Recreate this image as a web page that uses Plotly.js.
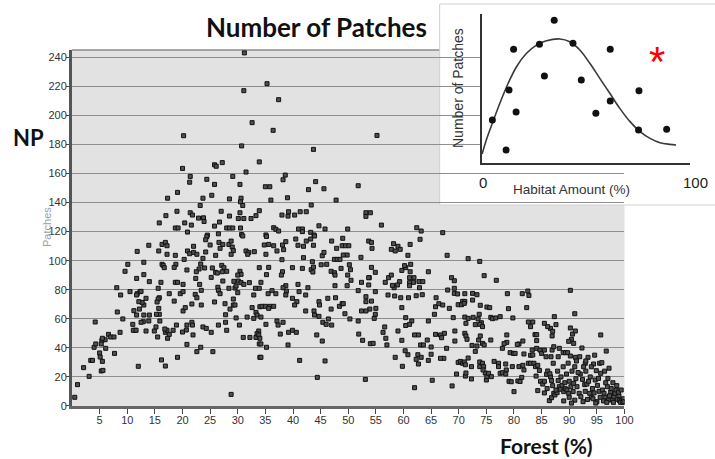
<!DOCTYPE html>
<html>
<head>
<meta charset="utf-8">
<script src="https://cdn.plot.ly/plotly-3.0.1.min.js"></script>
<style>
  html, body { margin: 0; padding: 0; background: #ffffff; }
  #chart { width: 715px; height: 459px; }
</style>
</head>
<body>
<div id="chart"></div>
<script>
// Landscape samples: forest cover (%) vs number of patches (NP), as [forest, NP]
const forestUnder20 = [
  [20.2,186],[20,163.5],[19.1,147],[17.3,143],[19,134],[17,131],[15.8,126],[18.7,122.5],[19.2,122.5],
  [16.3,111.2],[16.9,112.6],[17.2,110.3],[13.9,110.6],[11.8,106.4],[15.7,106.7],[17.2,104.4],[18.7,103.7],
  [10.1,97.5],[9.6,92.7],[13,98.9],[16.3,97.5],[16.5,96.8],[16.7,95.2],[18.8,97.5],[18.5,95.4],
  [11.7,87.8],[13,90.4],[14,85.6],[16.1,85.1],[18.7,85.1],[19.1,85.1],
  [8.1,81.4],[8.8,76.4],[10.5,78.7],[11.8,77.3],[12.3,78.7],[12.5,78.9],[11.7,76.4],[13.4,74.1],[13,69.5],
  [12.7,71.3],[12.1,71.8],[11.2,65.6],[11.7,62.6],[12.2,66.7],[14,62.6],[13.9,58.5],[12.9,58],[13,62.6],
  [12.5,57.6],[15.6,81],[15.8,74.5],[15.6,73.6],[15.4,71.6],[15.7,67.2],[15.8,63.1],[15.3,63.1],[15.9,58.5],
  [17.6,77.3],[18.5,72.2],[19.6,77.3],[8.2,64.7],[9.2,59.9],[4.2,57.8],[8.7,50.7],[11,56.2],[11.4,52.1],
  [11.1,52.1],[11.6,52.1],[13.4,51.6],[14.9,51.6],[15.2,54.4],[16.9,50.7],[17.2,52.1],[17.3,46.6],
  [17.6,49.3],[16.8,53],[15.5,47.5],[18.3,52.1],[18.9,55.7],[19.1,33.5],[16.2,31.7],[16.9,27.5],[12,27.3],
  [7.7,36.2],[5.4,45],[5.3,42.7],[6,45.6],[5.5,46.6],[6.1,39.7],[5,36.5],[5.1,33.7],[5.5,30.7],[5.3,24.1],
  [5.6,24.5],[6.6,49.3],[7,47.5],[7.6,47.5],[4,40.4],[4.3,42.7],[3.4,31.4],[3.7,31.4],[2.1,26.4],
  [3.1,20.4],[1,14.7],[0.5,6]
];

const forest20to35 = [
  [31.2,243],[31.1,217],[32.6,195],[30.7,179],[33.9,168],[25.8,166],[26.1,165],[27.2,167.5],[31.5,161],
  [21.4,158],[21.3,154],[24.4,156],[25.8,152.5],[29.1,158],[30.4,152.5],[23.7,143],[25.3,145],[28.5,142.5],
  [30.6,143],[30.5,140.5],[30.9,138],[23.2,138],[21.4,133],[21.8,131.4],[22.9,129.3],[23.8,129.5],[23.9,127],
  [27,134],[28.5,130.7],[30.4,133],[30.1,129],[31.1,129],[32.4,129],[33.3,131],[33.9,134.4],[20.4,126],
  [20.9,119.7],[21.6,124.5],[24.5,117.6],[25.8,123.8],[26.7,126.6],[26.5,118.5],[28,122.5],[28.5,122.5],
  [29.1,122.5],[30.5,122.5],[30.7,118],[24.4,116.5],[24.2,114.4],[30.9,117],[20.9,106.7],[22,109.9],
  [22,105.7],[21.3,104.8],[22.6,104.4],[24.2,106],[25,110.8],[26,103.7],[26.6,112.6],[26.8,108.5],
  [27.3,111.2],[28.4,111.2],[28.8,113.5],[29,109.4],[29.2,106.9],[28.8,104.4],[31.5,106.7],[32,105.7],
  [31.8,104.4],[33,106.2],[20.3,100.9],[20.8,93.6],[23.3,97.7],[23,94.3],[23.7,101.6],[24,95],[25.4,95],
  [26,92],[26.3,91.5],[27.1,96.8],[27.2,92.4],[27.5,95.2],[28,92.7],[30.4,92.7],[30.6,90.6],[30,90.1],
  [33.9,95.2],[20.1,83.7],[22.5,92.4],[22.4,87.8],[23.1,83.7],[23.4,79.6],[25.2,88.5],[26.4,81.7],
  [26.5,79.6],[26.8,77.3],[27.3,86],[28.4,81],[29.3,85.8],[29.5,81.2],[29.7,82.6],[30.1,86],[30.6,84.9],
  [31.1,83.7],[32.1,84.9],[33.2,81],[33.9,81],[20.1,78.7],[20.1,65.4],[20.5,67.7],[21.7,70.2],[22.3,76.8],
  [22.6,74.5],[23.4,69.5],[25.8,71.6],[27.7,70.4],[28.6,66.7],[29.2,69.5],[29.5,69.5],[29.2,73.6],[30,78],
  [32.9,76.4],[32.6,67.7],[33.3,64.4],[33.5,62.6],[32.9,60.3],[34,68.3],[31.7,61.2],[29.7,60.6],[27.8,62.8],
  [27.8,57.6],[26.5,55.7],[28,52.1],[20,50.9],[20.8,55.7],[20.7,52.3],[21.7,57.6],[21.8,55.7],[21.9,48.9],
  [20.8,42.4],[23.7,54.4],[24.3,53.4],[25.2,50.7],[22.6,37.4],[23.3,40.4],[25.5,37.4],[31,47.2],[32.2,47.2],
  [33.3,47.2],[33.8,51.6],[33.9,42.7],[33.5,49.8],[33.8,48.9],[30.3,55.7],[34,33.5],[28.8,8]
];

const forest35to67 = [
  [35.3,221.8],[37.4,210.8],[36.4,189.7],[55.2,186.2],[43.7,176.6],[38.6,158.9],[38.2,155.7],[35,150.9],
  [35.8,150.9],[44.1,154.4],[42.8,148.9],[45.6,149.5],[51.8,151.6],[36,141.7],[39,143.3],[47.8,141.7],
  [43.3,138.3],[38,131.4],[39.1,130.7],[39.2,133.7],[40.3,131.4],[41.3,133.7],[42.4,133.7],[53.2,133],
  [53.2,130.5],[54,133],[56,124.5],[36.5,122.7],[36.9,121.6],[37.4,120.4],[41,121.8],[41.7,121.8],[41.7,120],
  [43.2,119.5],[43.8,117.7],[44.7,124],[45.8,121.8],[49.9,121.8],[62.4,122.7],[63.2,120.4],[67.1,119.3],
  [35.1,117.7],[35.2,116.7],[34.8,110.8],[35.6,111.2],[36.5,110.3],[37.1,106.7],[38.1,110.8],[38.7,113.1],
  [38.3,107.6],[40.5,114.9],[40.9,110.6],[41.9,109.9],[42.4,113.5],[43.2,114.9],[43.9,117],[43.7,110.6],
  [47,113.5],[47.9,108.5],[49,115.4],[48.9,110.3],[49.5,110.3],[50.1,110.3],[49.8,103.9],[53.7,113.5],
  [54.2,112.6],[54.3,108.5],[57.8,107.8],[58.2,111.7],[58.5,106.7],[59,109.9],[59.4,107.8],[61.2,111.2],
  [63,114.7],[60.8,103.7],[35.1,104.4],[38,100.7],[41.9,102.1],[45.3,103.4],[45.6,105.7],[47.5,100.9],
  [48,100.9],[48.5,100.9],[49.1,103.9],[52.3,102.3],[35.6,95.4],[38.1,92.4],[37.9,90.1],[39.9,95.2],
  [41.7,94.7],[43.5,99.3],[43.3,93.8],[43.7,95.6],[43.6,92.2],[45.1,97.2],[46.1,97.5],[46.9,92.7],
  [47.5,91.7],[47.6,90.1],[48.7,94.7],[50.2,97.2],[50.4,93.8],[49.9,90.1],[50.5,86.5],[54.2,95.4],[54.9,92],
  [53.8,88.3],[57.3,88.3],[57.8,90.1],[59.7,93.3],[60.4,95.2],[60.2,96.6],[61.3,97.5],[61.2,92.4],
  [61.1,88.3],[61.1,84.9],[61.1,82.8],[61.9,88.3],[61.8,85.1],[62.9,81.4],[62.8,85.6],[63.5,85.6],
  [64.5,92.4],[59.3,85.6],[58.9,83.3],[58.3,81.4],[58,83],[56.7,85.1],[34.2,85.1],[35.2,90.4],[36.2,79.4],
  [35.5,77.3],[36.9,77.3],[38.7,82.8],[38.8,79.1],[38.7,76.4],[38.2,81.4],[40.9,83.7],[41.1,78.7],
  [39.9,74.1],[40.7,71.8],[40.3,69.5],[42.3,76.4],[42.7,81.4],[44.7,71.8],[44.8,69.5],[46.3,74.1],
  [46.9,66.7],[47.7,74.5],[48.4,68.6],[48.9,70.4],[49.1,70.4],[47.6,82.8],[49.8,82.8],[51.8,79.4],
  [52.4,85.1],[53.7,83.3],[53.7,88.3],[53.2,75.2],[53.2,71.8],[54.2,72.2],[53.9,66.7],[55,67.2],[54.9,63.1],
  [54.7,60.3],[52.4,65.4],[53.2,65.4],[54.9,78.7],[57.2,76.4],[58.4,75.7],[59.5,74.5],[60.9,74.5],
  [62.3,75.9],[63.4,76.6],[59.7,67.7],[60.4,60.8],[61.5,58.5],[61.1,56.2],[60.4,55.4],[64.5,58.5],
  [65.6,63.1],[65.8,68.3],[65.9,74.5],[66.4,70.4],[67.1,69.5],[34.2,61.2],[34.4,68.6],[35,68.6],[35.8,68.6],
  [36.5,68.6],[35.6,67.2],[35.1,56.2],[37.1,58.5],[37.3,55.7],[38.2,57.6],[34,46.6],[37.7,49.5],[39.2,50.7],
  [39.9,52.1],[40.6,50.7],[34.2,42.7],[35.2,40.4],[39.1,42],[34.2,33.5],[41.2,31.4],[45.8,31],[44.4,19.7],
  [53.1,18.3],[42.3,65.4],[43.8,65.4],[43.9,62.6],[44.7,61.7],[45.4,57.6],[46.4,59.9],[46,56.2],[47,55.7],
  [49.4,63.5],[50.3,59.9],[51.8,58.5],[44.3,48.9],[45.3,44.7],[51.9,49.5],[52.6,45.2],[54,42.9],[54.5,43.1],
  [56.3,50.7],[56.6,54.4],[56.8,46.6],[57,42],[59,51.6],[59.7,45.2],[58.5,33.5],[60.3,38],[60.8,35.3],
  [59.8,27.3],[62,12.6],[62.6,35.3],[63.2,33.5],[62.7,28.9],[62.3,32.1],[64.5,31.4],[65,35.6],[67.3,32.8],
  [66.7,32.8],[65.2,17.7],[62,48.9],[62.7,48.9],[63.1,42],[63.6,42],[64.3,45.4],[65,40.6],[65.8,49.3],
  [66.7,48.9],[66.9,47],[67.4,50]
];

const forestOver67 = [
  [67.9,103.7],[71.7,101.4],[73.8,99.5],[74.6,89.7],[76.8,86.5],[68.7,88.3],[69.2,86.2],[68,79.8],[69.2,81],
  [69.2,77.5],[69.8,77.1],[71.1,77.3],[72.5,77.5],[73.3,76.6],[72.5,72.9],[78.8,77.3],[81.5,77.3],[82.5,79.1],
  [82.7,76.1],[90.2,79.6],[68.3,67.2],[69.9,69.7],[70.7,72],[71.1,72],[70.5,69.7],[71,70.6],[73.9,69.3],
  [75.1,68.1],[75.6,67.7],[79,67],[82.3,67.7],[91,63.5],[69,60.8],[71.1,61.2],[71.7,60.3],[72.6,61],
  [73.7,63.1],[73.5,59.9],[74.1,57.3],[73.8,56.2],[74.3,54.6],[71.3,56.9],[73,56],[75.8,61],[76.1,60.1],
  [76.7,60.6],[77.5,61.5],[79.8,60.6],[82.6,57.8],[83.4,57.8],[83,54.6],[83.8,49.1],[84.1,49.1],[87.3,61.5],
  [87.6,56],[86.6,53.4],[87,51.4],[86.9,48.2],[85.5,56.9],[86.1,54.6],[90.2,53.7],[90.6,49.5],[90.4,45.9],
  [90.8,43.1],[89.9,44.5],[91.1,51.6],[95.7,48.9],[67.8,39.7],[69.3,51.6],[69.3,44.7],[71.1,50],[71.3,48.2],
  [71.5,45.9],[72.4,41.7],[73.3,41.3],[73,37.6],[73.6,45.4],[74.3,43.1],[74.6,42],[73.9,48.2],[75.8,45.4],
  [78.7,48.9],[78.7,43.8],[78.2,42.9],[77.9,39.7],[79.3,36.7],[79.9,36.2],[80.2,36.2],[80.9,42.7],[80.6,42.4],
  [81.6,44.7],[81.8,35.8],[84.1,45],[83.3,38.5],[84.1,39.7],[84.7,38.5],[85,36.2],[85.5,38.5],[85.8,33.9],
  [86.9,38.5],[87.2,40.8],[86.7,33.9],[87.1,29.4],[88,33.9],[88.2,39.7],[88.9,36.7],[89.3,36.7],[89.7,36.7],
  [90.2,34.4],[91.1,33.5],[91.9,33.9],[92.3,39.9],[93.4,33.5],[92.9,29.4],[94.4,28.9],[95.5,29.4],[96.7,37.8],
  [68.8,13.8],[69.6,22],[71.2,20.6],[71.3,22.7],[72.3,18.6],[69.9,30],[70.3,30.7],[70.7,29.4],[71,30.3],
  [71.2,28.4],[71.7,33],[72.3,27.1],[73.8,30.3],[73.8,27.1],[74.3,29.4],[74.5,27.1],[74.8,22.7],[75,17.9],
  [75.1,20.2],[75.4,22.5],[75.9,20.2],[74.4,24.8],[76.4,30.7],[77.2,29.4],[77.2,27.1],[77.5,22.5],[77.9,22.9],
  [78.5,28.9],[78.6,24.8],[79.1,17],[79.5,16.7],[78.5,22],[79.7,27.1],[80,9.9],[80.7,17.2],[81.1,16.9],
  [81.4,19.7],[80.9,27.1],[81.6,28],[81.8,24.8],[82.6,29.4],[83,29.4],[83.6,29.4],[83,34.9],[83.4,35.1],
  [83.9,27.1],[84.3,28],[84.6,24.5],[84,20.6],[84.3,10.6],[84.8,17],[85.2,15.1],[85.5,17],[85.9,21.8],
  [86.1,24.1],[86.6,20.2],[86.5,22.2]
];

const forestOver85Dense = [
  [86.4,3.7],[86.8,5.7],[87.2,8.7],[87.4,7.6],[87.8,9.2],[87.6,11],[88.2,13.3],[88.4,11.5],[88.7,14.2],
  [89,9.9],[89.3,11.9],[89.6,11],[89.9,8.7],[90,6],[90.3,13.3],[90.7,9.9],[90.8,15.6],[91.2,18.8],[91.4,13.3],
  [91.8,8.7],[92.1,6.4],[92.4,18.3],[92.8,14.7],[92.9,10.1],[93.2,15.1],[93.5,17],[93.7,8.7],[94,6],[94.3,5],
  [94.7,17.9],[94.9,24.3],[95.1,14.2],[95.4,10.1],[95.7,22.5],[95.9,29.8],[96,11],[96.3,8.7],[96.5,6],
  [96.9,13.3],[97.1,4.1],[97.5,9.6],[97.8,4.1],[98.1,6.4],[98.3,8.7],[98.7,4.6],[99.1,3.7],[99.5,3.7],[99.8,5],
  [88.5,20],[89.5,22],[90.5,24],[91,27],[92,22],[93,24],[93.8,20],[94.2,12],[94.5,9],[95,3],[95.6,6],
  [96.2,3.5],[96.6,16],[97,19],[97.3,7],[97.6,12],[98,2.5],[98.5,11],[99,7],[99.3,2.5],[99.7,2.5],[98.9,9.5],
  [96.8,2.5],[95.3,19],[94,27],[92.6,27],[91.6,23],[90,17],[89.2,16],[88,17.5],[87,14],[86,12],[85.5,9],
  [86.8,17.5],[87.9,24],[88.9,27],[89.8,29.5],[91.3,31],[93,31],[94.6,35],[96.4,24],[97.9,16],[98.6,14],
  [99.4,11],[99.9,3],[97.2,26],[93.3,4.5],[92.5,3],[91,4],[89,3.5],[90.4,2],[94.8,2]
];

// Inset: conceptual hump-shaped response of patch number to habitat amount
const insetHabitat = [5.1, 11.7, 13.1, 15.3, 16.5, 27.7, 30.1, 34.8, 43.8, 47.8, 54.8, 61.7, 61.7, 75.5, 75.3, 88.8];
const insetPatches = [29, 8.9, 49.1, 76.4, 34.4, 79.7, 58.5, 95.8, 80.4, 55.8, 33.5, 76.4, 41.7, 48.6, 22.3, 22.8];
const curveHabitat = [0.2, 2.2, 5.1, 8.7, 12.7, 16.7, 21.5, 26.3, 31.1, 37.5, 42.3, 47.1, 51.9, 56.7, 61.5, 66.3, 71.2, 76, 80.8, 85.6, 90.4, 93.3];
const curvePatches = [6.2, 15.6, 26.8, 40.2, 53.6, 64.7, 73.7, 79.2, 82.1, 83.3, 81.4, 75.9, 67, 56.9, 46.9, 36.8, 27.9, 21.2, 16.7, 13.8, 12.7, 12.3];

// Axis ticks
const forestTicks = [5, 10, 15, 20, 25, 30, 35, 40, 45, 50, 55, 60, 65, 70, 75, 80, 85, 90, 95, 100];
const npTicks = [0, 20, 40, 60, 80, 100, 120, 140, 160, 180, 200, 220, 240];

const allPts = [].concat(forestUnder20, forest20to35, forest35to67, forestOver67, forestOver85Dense);

// page pixel -> paper fraction (plot area spans x 72..690, y 14..406)
const PX = px => (px - 72) / 618;
const PY = py => (406 - py) / 392;

const narrow = 'Liberation Sans Narrow, Arial Narrow, Liberation Sans, Arial, sans-serif';
const bold = 'Lato, Carlito, Calibri, Open Sans, sans-serif';
const sans = 'Liberation Sans, Arial, Helvetica, sans-serif';

const traces = [
  {
    type: 'scatter', mode: 'markers',
    x: allPts.map(p => p[0]), y: allPts.map(p => p[1]),
    xaxis: 'x', yaxis: 'y',
    marker: { symbol: 'square', size: 4, color: '#505050', line: { color: '#111111', width: 1 } },
    hoverinfo: 'skip'
  },
  {
    type: 'scatter', mode: 'lines',
    x: curveHabitat, y: curvePatches,
    xaxis: 'x2', yaxis: 'y2',
    line: { color: '#3a3a3a', width: 1.6, shape: 'spline', smoothing: 1 },
    hoverinfo: 'skip'
  },
  {
    type: 'scatter', mode: 'markers',
    x: insetHabitat, y: insetPatches,
    xaxis: 'x2', yaxis: 'y2',
    marker: { symbol: 'circle', size: 7, color: '#111111' },
    hoverinfo: 'skip'
  }
];

const layout = {
  width: 715, height: 459,
  margin: { l: 72, r: 25, t: 14, b: 53, pad: 0 },
  paper_bgcolor: '#ffffff',
  plot_bgcolor: '#ffffff',
  showlegend: false,
  xaxis: {
    domain: [0, 0.894], range: [0, 100], anchor: 'y',
    tickmode: 'array', tickvals: forestTicks, ticktext: forestTicks.map(String),
    ticks: 'outside', ticklen: 5, tickwidth: 1, tickcolor: '#444',
    ticklabelstandoff: -3,
    showline: true, linecolor: '#666', linewidth: 3,
    showgrid: false, zeroline: false,
    tickfont: { family: narrow, size: 11, color: '#333' },
    fixedrange: true
  },
  yaxis: {
    domain: [0, 0.9082], range: [0, 245], anchor: 'x',
    tickmode: 'array', tickvals: npTicks, ticktext: npTicks.map(String),
    ticks: 'outside', ticklen: 3, tickwidth: 1, tickcolor: '#444',
    ticklabelstandoff: -3,
    showline: true, linecolor: '#555', linewidth: 3,
    showgrid: true, gridcolor: '#8e8e8e', gridwidth: 1,
    zeroline: false,
    tickfont: { family: narrow, size: 11, color: '#333' },
    fixedrange: true
  },
  xaxis2: {
    domain: [0.663, 1], range: [0, 100], anchor: 'y2',
    showline: true, linecolor: '#333', linewidth: 1.5,
    showgrid: false, zeroline: false, showticklabels: false, ticks: '',
    fixedrange: true
  },
  yaxis2: {
    domain: [0.6191, 1], range: [0, 100], anchor: 'x2',
    showline: true, linecolor: '#333', linewidth: 1.5,
    showgrid: false, zeroline: false, showticklabels: false, ticks: '',
    fixedrange: true
  },
  shapes: [
    // main plot background and top border
    { type: 'rect', xref: 'x domain', yref: 'y domain', x0: 0, x1: 1, y0: 0, y1: 1,
      fillcolor: '#e2e2e2', line: { width: 0 }, layer: 'below' },
    { type: 'line', xref: 'x domain', yref: 'y domain', x0: 0, x1: 1, y0: 1, y1: 1,
      line: { color: '#8a8a8a', width: 1.5 }, layer: 'below' },
    // inset panel
    { type: 'rect', xref: 'x2 domain', yref: 'y2 domain', x0: -0.202, x1: 1.13, y0: -0.279, y1: 1.067,
      fillcolor: '#ffffff', line: { color: '#d0d0d0', width: 1 }, layer: 'below' }
  ],
  annotations: [
    { text: '<b>Number of Patches</b>', xref: 'paper', yref: 'paper', x: PX(316), y: PY(27),
      xanchor: 'center', yanchor: 'middle', showarrow: false,
      font: { family: bold, size: 26, color: '#111' } },
    { text: '<b>NP</b>', xref: 'paper', yref: 'paper', x: PX(29), y: PY(137),
      xanchor: 'center', yanchor: 'middle', showarrow: false,
      font: { family: bold, size: 22, color: '#111' } },
    { text: '<b>Forest (%)</b>', xref: 'paper', yref: 'paper', x: PX(546), y: PY(446),
      xanchor: 'center', yanchor: 'middle', showarrow: false,
      font: { family: bold, size: 21, color: '#111' } },
    { text: 'Patches', xref: 'paper', yref: 'paper', x: PX(47), y: PY(227), textangle: -90,
      xanchor: 'center', yanchor: 'middle', showarrow: false,
      font: { family: sans, size: 11, color: '#a0a0a0' } },
    { text: '0', xref: 'paper', yref: 'paper', x: PX(483), y: PY(182),
      xanchor: 'center', yanchor: 'middle', showarrow: false,
      font: { family: sans, size: 15, color: '#222' } },
    { text: '100', xref: 'paper', yref: 'paper', x: PX(695), y: PY(182),
      xanchor: 'center', yanchor: 'middle', showarrow: false,
      font: { family: sans, size: 15, color: '#222' } },
    { text: 'Habitat Amount (%)', xref: 'paper', yref: 'paper', x: PX(571), y: PY(189),
      xanchor: 'center', yanchor: 'middle', showarrow: false,
      font: { family: sans, size: 13.5, color: '#333' } },
    { text: 'Number of Patches', xref: 'paper', yref: 'paper', x: PX(457.5), y: PY(87.5), textangle: -90,
      xanchor: 'center', yanchor: 'middle', showarrow: false,
      font: { family: sans, size: 14, color: '#333' } },
    { text: '*', xref: 'paper', yref: 'paper', x: PX(657), y: PY(61),
      xanchor: 'center', yanchor: 'middle', showarrow: false,
      font: { family: sans, size: 42, color: '#ff0000' } }
  ]
};

Plotly.newPlot('chart', traces, layout, { displayModeBar: false, staticPlot: true });
</script>
</body>
</html>
